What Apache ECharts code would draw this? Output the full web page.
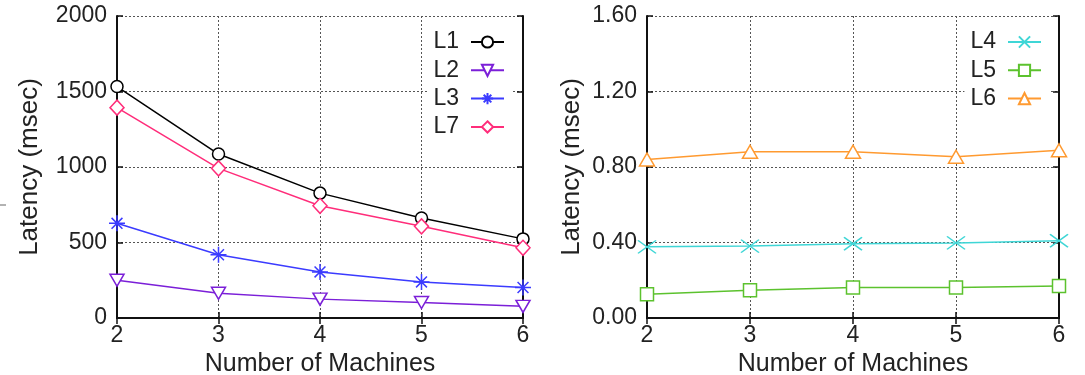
<!DOCTYPE html>
<html>
<head>
<meta charset="utf-8">
<script src="https://cdn.jsdelivr.net/npm/echarts@6/dist/echarts.min.js"></script>
<style>
  html, body { margin: 0; padding: 0; background: #fff; }
  #chart { width: 1085px; height: 375px; }
</style>
</head>
<body>
<div id="chart"></div>
<script>
// x values (number of machines)
const machines = [2, 3, 4, 5, 6]

// left panel, latency in msec
const l1 = [1533, 1086, 827, 662, 524]
const l2 = [250, 164, 125, 103, 77]
const l3 = [627, 419, 305, 239, 202]
const l7 = [1393, 991, 743, 607, 465]

// right panel, latency in msec
const l4 = [0.377, 0.381, 0.393, 0.398, 0.409]
const l5 = [0.126, 0.147, 0.161, 0.161, 0.170]
const l6 = [0.840, 0.881, 0.881, 0.854, 0.889]

const font = '"Liberation Sans", Arial, sans-serif'
const textColor = '#222'
const gridColor = '#555'

const pts = (ys) => machines.map((m, i) => [m, ys[i]])

// gnuplot-like point types (white fill + coloured outline)
const symInvTri = 'path://M0,0L10,0L5,9Z'
const symStar = 'path://M5,0L5,10M0,5L10,5M1.6,1.6L8.4,8.4M8.4,1.6L1.6,8.4'
const symCross = 'path://M0,0L10,7M10,0L0,7'

function line (name, data, color, symbol, size, xi, yi) {
  return {
    name: name,
    type: 'line',
    xAxisIndex: xi,
    yAxisIndex: yi,
    data: data,
    color: color,
    symbol: symbol,
    symbolSize: size,
    showSymbol: true,
    lineStyle: { color: color, width: 1.5 },
    itemStyle: { color: '#fff', borderColor: color, borderWidth: 1.5 },
    z: 5
  }
}

function mainX (gi) {
  return {
    type: 'value', gridIndex: gi, min: 2, max: 6, interval: 1,
    name: 'Number of Machines', nameLocation: 'middle', nameGap: 30,
    nameTextStyle: { fontFamily: font, fontSize: 25, color: textColor },
    axisLine: { lineStyle: { color: '#111', width: 2 } },
    axisTick: { inside: true, length: 6, lineStyle: { color: '#111', width: 1.5 } },
    axisLabel: { fontFamily: font, fontSize: 23, color: textColor, margin: 6 },
    splitLine: { show: true, lineStyle: { color: gridColor, type: [2, 2], width: 1 } }
  }
}

function mirrorX (gi) {
  return {
    type: 'value', gridIndex: gi, min: 2, max: 6, interval: 1, position: 'top',
    axisLine: { lineStyle: { color: '#111', width: 2 } },
    axisTick: { inside: true, length: 6, lineStyle: { color: '#111', width: 1.5 } },
    axisLabel: { show: false },
    splitLine: { show: false }
  }
}

function mainY (gi, max, interval, gap, fmt) {
  return {
    type: 'value', gridIndex: gi, min: 0, max: max, interval: interval,
    name: 'Latency (msec)', nameLocation: 'middle', nameGap: gap,
    nameTextStyle: { fontFamily: font, fontSize: 26, color: textColor },
    axisLine: { show: true, lineStyle: { color: '#111', width: 2 } },
    axisTick: { show: true, inside: true, length: 6, lineStyle: { color: '#111', width: 1.5 } },
    axisLabel: { fontFamily: font, fontSize: 23, color: textColor, margin: 10, formatter: fmt },
    splitLine: { show: true, lineStyle: { color: gridColor, type: [2, 2], width: 1 } }
  }
}

function mirrorY (gi, max, interval) {
  return {
    type: 'value', gridIndex: gi, min: 0, max: max, interval: interval, position: 'right',
    axisLine: { show: true, lineStyle: { color: '#111', width: 2 } },
    axisTick: { show: true, inside: true, length: 6, lineStyle: { color: '#111', width: 1.5 } },
    axisLabel: { show: false },
    splitLine: { show: false }
  }
}

function legend (names, right) {
  return {
    data: names,
    orient: 'vertical',
    align: 'right',
    right: right,
    top: 22,
    padding: [8, 8, 8, 6],
    backgroundColor: '#fff',
    itemWidth: 33,
    itemHeight: 14,
    itemGap: 4.3,
    textStyle: { fontFamily: font, fontSize: 23, color: textColor, lineHeight: 24, padding: [0, 7, 0, 0] }
  }
}

const chart = echarts.init(document.getElementById('chart'), null, { renderer: 'canvas' })

chart.setOption({
  backgroundColor: '#fff',
  animation: false,
  grid: [
    { left: 117, right: 562, top: 16, bottom: 57, outerBoundsMode: 'none' },
    { left: 647, right: 26, top: 16, bottom: 57, outerBoundsMode: 'none' }
  ],
  xAxis: [mainX(0), mirrorX(0), mainX(1), mirrorX(1)],
  yAxis: [
    mainY(0, 2000, 500, 74, (v) => String(v)),
    mirrorY(0, 2000, 500),
    mainY(1, 1.6, 0.4, 62, (v) => v.toFixed(2)),
    mirrorY(1, 1.6, 0.4)
  ],
  legend: [
    legend(['L1', 'L2', 'L3', 'L7'], 572),
    legend(['L4', 'L5', 'L6'], 35)
  ],
  graphic: [
    { type: 'line', shape: { x1: 0, y1: 205, x2: 6, y2: 205 }, style: { stroke: '#666', lineWidth: 1 } }
  ],
  series: [
    line('L1', pts(l1), '#000000', 'circle', 12, 0, 0),
    line('L2', pts(l2), '#7b1fd8', symInvTri, [14, 12], 0, 0),
    line('L3', pts(l3), '#3b3bff', symStar, 16, 0, 0),
    line('L7', pts(l7), '#ff2d7a', 'diamond', [14, 15], 0, 0),
    line('L4', pts(l4), '#3fd6d6', symCross, [18, 13], 2, 2),
    line('L5', pts(l5), '#5cc22e', 'rect', 13, 2, 2),
    line('L6', pts(l6), '#ff9a30', 'triangle', [15, 13], 2, 2)
  ]
})
</script>
</body>
</html>
